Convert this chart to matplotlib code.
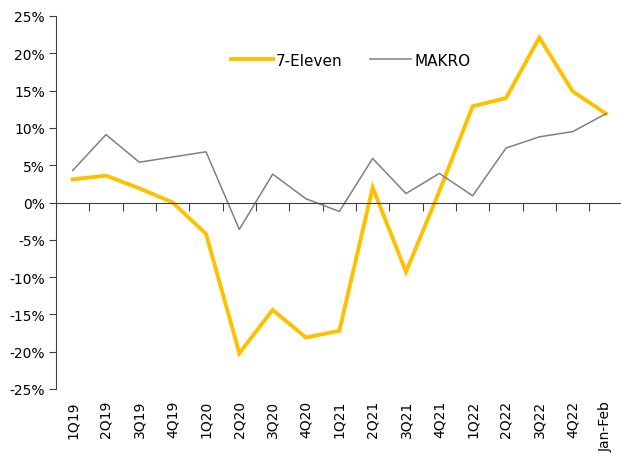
import numpy as np
import matplotlib.pyplot as plt
from matplotlib.ticker import FuncFormatter

# Данные с графика
quarters = ['1Q19', '2Q19', '3Q19', '4Q19', '1Q20', '2Q20', '3Q20', '4Q20',
            '1Q21', '2Q21', '3Q21', '4Q21', '1Q22', '2Q22', '3Q22', '4Q22', 'Jan-Feb']
seven_eleven = [3.1, 3.6, 1.9, 0.0, -4.2, -20.2, -14.4, -18.1,
                -17.2, 2.0, -9.3, 1.5, 12.9, 14.0, 22.1, 14.9, 11.9]
makro = [4.3, 9.1, 5.4, 6.1, 6.8, -3.6, 3.8, 0.5,
         -1.2, 5.9, 1.2, 3.9, 0.9, 7.3, 8.8, 9.5, 11.9]

plt.rcParams['font.family'] = ['DejaVu Sans']

fig = plt.figure(figsize=(6.21, 4.64), dpi=100)
ax = fig.add_axes([56 / 621, 1 - 390 / 464, 565 / 621, 373 / 464])

x = np.arange(len(quarters))
ax.plot(x, seven_eleven, color='#FFC000', lw=2.8, label='7-Eleven', solid_joinstyle='miter')
ax.plot(x, makro, color='#808080', lw=1.1, label='MAKRO')

ax.set_xlim(-0.5, 16.45)
ax.set_ylim(-25, 25)
ax.set_yticks(np.arange(-25, 26, 5))
ax.yaxis.set_major_formatter(FuncFormatter(lambda v, p: f'{v:.0f}%'))
ax.tick_params(axis='y', length=5, color='#404040', labelsize=10, pad=3)

# Ось X проходит через ноль
ax.spines['right'].set_visible(False)
ax.spines['top'].set_visible(False)
ax.spines['left'].set_color('#404040')
ax.spines['bottom'].set_position(('data', 0))
ax.spines['bottom'].set_color('#404040')
ax.set_xticks(x[:-1] + 0.5)
ax.set_xticklabels([])
ax.tick_params(axis='x', length=6, color='#404040', direction='out')

# Подписи категорий внизу
sec = ax.secondary_xaxis(0.0)
sec.spines['bottom'].set_visible(False)
sec.set_xticks(x)
sec.set_xticklabels(quarters, rotation=90, fontsize=10)
sec.tick_params(length=0, pad=8)

ax.legend(loc='center', bbox_to_anchor=(0.522, 0.882), ncol=2, frameon=False,
          fontsize=11, handlelength=2.7, columnspacing=1.8, handletextpad=0.2)

plt.savefig('out.png', dpi=100)
